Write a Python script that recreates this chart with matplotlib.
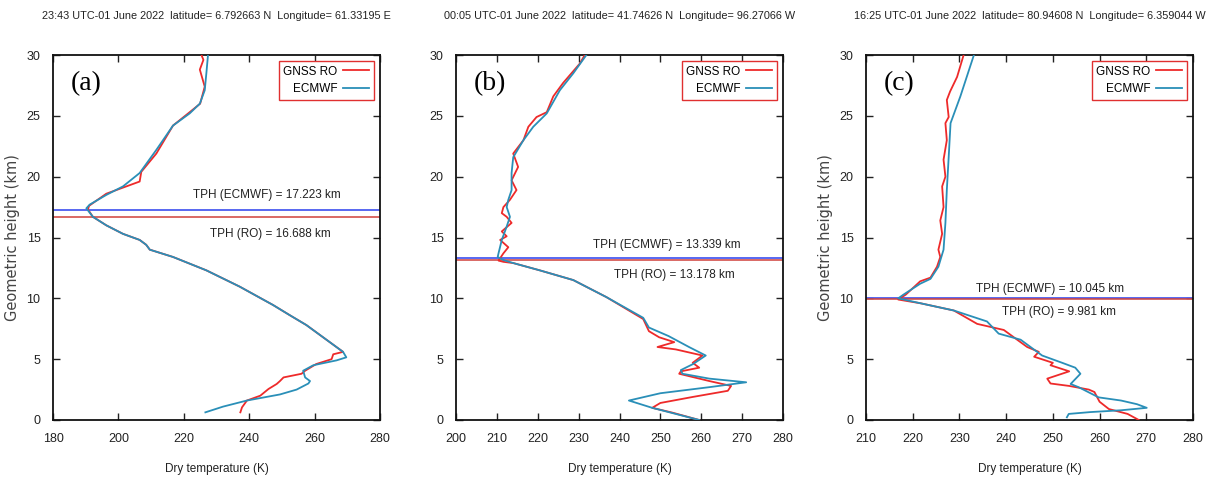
import matplotlib
matplotlib.use("Agg")
from matplotlib import pyplot as plt
import numpy as np

# Police plus étroite que DejaVu (proche du rendu gnuplot de la figure)
plt.rcParams['font.family'] = ['Liberation Sans', 'DejaVu Sans']

# Couleurs
RO_COLOR = '#ee2a2a'
EC_COLOR = '#2a8fb8'

# ---- Panneau (a) ----
a_title = "23:43 UTC-01 June 2022  latitude= 6.792663 N  Longitude= 61.33195 E"
a_ec_T = [226.6, 232.0, 239.3, 249.4, 254.5, 258.1, 258.6, 257.1, 256.5, 259.6, 266.7, 269.7, 268.7,
          257.5, 252.5, 247.3, 237.1, 226.9, 216.7, 209.6, 208.5, 206.5, 201.4, 196.3, 192.2, 190.2,
          191.2, 196.3, 201.4, 206.5, 211.6, 216.7, 221.8, 224.9, 226.4, 226.9, 227.4]
a_ec_h = [0.63, 1.1, 1.6, 2.1, 2.5, 3.0, 3.2, 3.5, 4.05, 4.5, 4.9, 5.15, 5.6,
          7.8, 8.6, 9.45, 10.96, 12.3, 13.4, 14.0, 14.4, 14.8, 15.3, 16.0, 16.7, 17.4,
          17.7, 18.5, 19.2, 20.3, 22.2, 24.2, 25.2, 26.0, 27.1, 28.5, 30.0]
a_ro_T = [237.3, 237.8, 239.3, 243.4, 245.9, 248.4, 249.4, 250.5, 256.0, 257.1, 260.5, 265.2, 265.7, 268.7,
          257.5, 252.5, 247.3, 237.1, 226.9, 216.7, 209.6, 208.5, 206.5, 201.4, 196.3, 192.2, 190.7,
          191.0, 196.3, 206.5, 207.0, 211.6, 216.7, 221.8, 225.0, 226.4, 224.9, 226.0, 225.4]
a_ro_h = [0.63, 1.04, 1.6, 2.0, 2.55, 2.96, 3.2, 3.5, 3.8, 4.05, 4.6, 5.0, 5.4, 5.6,
          7.8, 8.6, 9.45, 10.96, 12.3, 13.4, 14.0, 14.4, 14.8, 15.3, 16.0, 16.7, 17.3,
          17.6, 18.6, 19.6, 20.4, 21.9, 24.2, 25.3, 26.0, 27.4, 28.8, 29.6, 30.0]
a_tph = [17.223, 16.688]

# ---- Panneau (b) ----
b_title = "00:05 UTC-01 June 2022  latitude= 41.74626 N  Longitude= 96.27066 W"
b_ec_T = [259.5, 248.0, 242.3, 250.0, 262.0, 271.0, 262.0, 255.4, 255.0, 258.0, 261.1, 257.0, 252.0,
          247.2, 245.8, 236.8, 228.7, 220.5, 214.0, 211.6, 210.2, 210.4, 211.2, 212.4, 213.2, 212.4,
          212.8, 213.6, 213.6, 214.0, 216.5, 218.9, 222.2, 225.4, 228.7, 231.9]
b_ec_h = [0.0, 1.0, 1.6, 2.2, 2.7, 3.1, 3.4, 3.8, 4.1, 4.6, 5.3, 6.0, 6.9,
          7.6, 8.4, 10.1, 11.5, 12.3, 12.9, 13.15, 13.4, 13.7, 14.8, 15.9, 16.7, 17.5,
          18.1, 18.9, 20.3, 21.6, 23.0, 24.1, 25.2, 27.1, 28.5, 30.0]
b_ro_T = [259.5, 253.0, 248.0, 250.0, 258.0, 266.5, 267.3, 262.0, 254.6, 255.0, 259.5, 257.9, 260.3,
          253.8, 249.3, 253.4, 249.7, 247.2, 245.8, 236.8, 228.7, 220.5, 214.0, 211.6, 210.4, 211.6,
          212.8, 210.8, 212.4, 211.2, 213.6, 212.4, 211.2, 211.6, 213.2, 214.8, 213.6, 215.2, 214.0,
          216.5, 217.7, 219.7, 222.2, 223.8, 226.2, 230.3, 231.5]
b_ro_h = [0.0, 0.6, 1.0, 1.4, 1.9, 2.4, 2.8, 3.2, 3.8, 4.0, 4.3, 4.7, 5.3,
          5.8, 6.0, 6.4, 6.8, 7.3, 8.3, 10.1, 11.5, 12.3, 12.9, 13.0, 13.1, 13.7,
          14.2, 14.8, 15.1, 15.5, 16.2, 16.7, 17.0, 17.5, 18.1, 18.9, 19.7, 20.8, 21.9,
          23.0, 24.1, 24.9, 25.3, 26.6, 27.7, 29.3, 30.0]
b_tph = [13.339, 13.178]

# ---- Panneau (c) ----
c_title = "16:25 UTC-01 June 2022  latitude= 80.94608 N  Longitude= 6.359044 W"
c_ec_T = [253.0, 253.4, 258.0, 264.6, 270.1, 268.0, 264.6, 259.8, 255.5, 253.8, 255.9, 254.8, 252.0,
          247.7, 243.1, 238.4, 235.9, 228.8, 221.6, 216.9, 218.0, 221.6, 223.8, 225.5, 226.6, 227.0,
          227.3, 227.7, 228.1, 230.2, 233.1]
c_ec_h = [0.22, 0.5, 0.65, 0.8, 1.0, 1.3, 1.6, 1.86, 2.7, 2.96, 3.8, 4.3, 4.7,
          5.3, 6.6, 7.1, 8.1, 9.0, 9.6, 10.0, 10.3, 11.2, 11.6, 12.6, 14.0, 16.2,
          18.9, 21.6, 24.4, 26.6, 30.0]
c_ro_T = [268.4, 266.0, 262.0, 260.0, 258.9, 257.7, 253.5, 249.5, 248.8, 253.5, 249.5, 250.0, 246.0,
          247.0, 244.5, 239.5, 233.8, 228.8, 221.6, 216.9, 218.5, 221.6, 223.8, 225.2, 225.9, 225.5,
          226.3, 225.9, 226.6, 226.3, 227.0, 226.6, 227.3, 227.0, 227.7, 227.3, 228.0, 229.5, 230.9]
c_ro_h = [0.0, 0.5, 0.9, 1.5, 2.3, 2.5, 2.8, 3.0, 3.4, 4.0, 4.5, 4.7, 5.2,
          5.6, 6.0, 7.4, 7.9, 9.0, 9.6, 9.9, 10.3, 11.4, 11.7, 12.6, 13.4, 14.0,
          15.3, 16.4, 17.5, 19.2, 20.0, 21.4, 23.0, 24.4, 24.9, 26.3, 27.0, 28.2, 30.0]
c_tph = [10.045, 9.981]

panels = [
    dict(label="(a)", title=a_title, ec=(a_ec_T, a_ec_h), ro=(a_ro_T, a_ro_h), tph=a_tph,
         xlim=(180, 280), xstep=20, left=53, txt=((245.5, 18.5), (246.5, 15.3)), ylab=True),
    dict(label="(b)", title=b_title, ec=(b_ec_T, b_ec_h), ro=(b_ro_T, b_ro_h), tph=b_tph,
         xlim=(200, 280), xstep=10, left=456, txt=((251.5, 14.4), (253.5, 11.9)), ylab=False),
    dict(label="(c)", title=c_title, ec=(c_ec_T, c_ec_h), ro=(c_ro_T, c_ro_h), tph=c_tph,
         xlim=(210, 280), xstep=10, left=866, txt=((249.5, 10.8), (251.3, 8.9)), ylab=True),
]

W, H = 1207, 478
fig = plt.figure(figsize=(W / 100, H / 100), dpi=100)

for p in panels:
    ax = fig.add_axes([p["left"] / W, 1 - 420 / H, 327 / W, 365 / H])
    ax.plot(p["ro"][0], p["ro"][1], color=RO_COLOR, lw=1.3, label="GNSS RO", zorder=3)
    ax.plot(p["ec"][0], p["ec"][1], color=EC_COLOR, lw=1.3, label="ECMWF", zorder=3)
    # hauteurs de tropopause
    ax.axhline(p["tph"][0], color='#4a5cf0', lw=1.3, zorder=2)
    ax.axhline(p["tph"][1], color='#d0403a', lw=1.1, zorder=2)
    ax.text(p["txt"][0][0], p["txt"][0][1], "TPH (ECMWF) = %.3f km" % p["tph"][0],
            ha='center', va='center', fontsize=8.5, color='#222222')
    ax.text(p["txt"][1][0], p["txt"][1][1], "TPH (RO) = %.3f km" % p["tph"][1],
            ha='center', va='center', fontsize=8.5, color='#222222')

    ax.set_xlim(*p["xlim"])
    ax.set_ylim(0, 30)
    ax.set_xticks(np.arange(p["xlim"][0], p["xlim"][1] + 1, p["xstep"]))
    ax.set_yticks(np.arange(0, 31, 5))
    ax.tick_params(direction='in', top=True, right=True, length=5, width=1,
                   labelsize=9, pad=9, colors='#222222')
    for s in ax.spines.values():
        s.set_linewidth(1.3)
        s.set_color('#111111')
    ax.set_xlabel("Dry temperature (K)", fontsize=8.5, labelpad=13, color='#222222')
    if p["ylab"]:
        ax.set_ylabel("Geometric height (km)", fontsize=10.5, color='#444444', labelpad=5,
                      family=['DejaVu Sans'])
    ax.set_title(p["title"], fontsize=7.8, pad=26, color='#222222')
    ax.text(0.055, 0.955, p["label"], transform=ax.transAxes, ha='left', va='top',
            fontsize=20, family=['Liberation Serif', 'DejaVu Serif'])
    leg = ax.legend(loc='upper right', markerfirst=False, fancybox=False, framealpha=1,
                    edgecolor='#e03030', fontsize=8.5, handlelength=2.2, borderpad=0.4,
                    labelspacing=0.45, handletextpad=0.5, borderaxespad=0.5)
    leg.get_frame().set_linewidth(1.0)

fig.savefig("out.png", dpi=100)
